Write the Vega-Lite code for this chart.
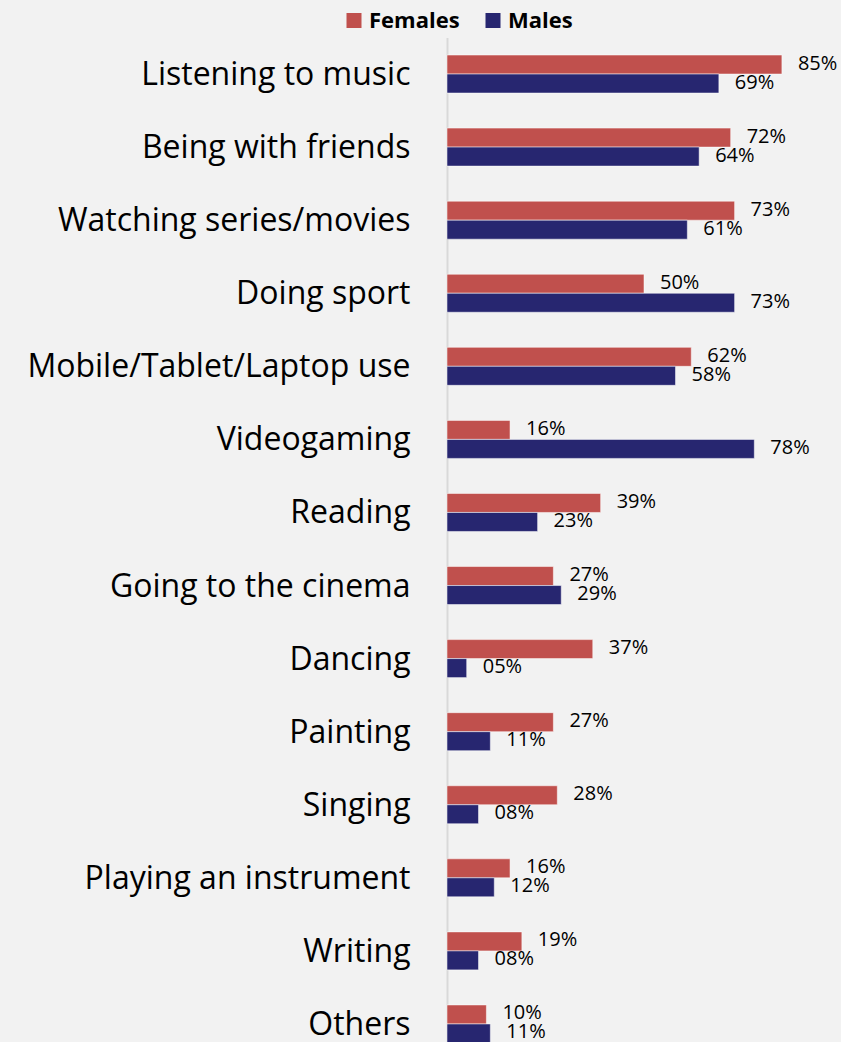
{
  "$schema": "https://vega.github.io/schema/vega-lite/v6.json",
  "autosize": {"type": "none"},
  "padding": {"left": 447, "top": 37.5, "right": 0, "bottom": 0},
  "width": 394,
  "height": 1023,
  "background": "#f2f2f2",
  "config": {
    "view": {"stroke": null},
    "font": "Open Sans"
  },
  "data": {
    "values": [
      {"activity": "Listening to music", "sex": "Females", "v": 0.85},
      {"activity": "Listening to music", "sex": "Males", "v": 0.69},
      {"activity": "Being with friends", "sex": "Females", "v": 0.72},
      {"activity": "Being with friends", "sex": "Males", "v": 0.64},
      {"activity": "Watching series/movies", "sex": "Females", "v": 0.73},
      {"activity": "Watching series/movies", "sex": "Males", "v": 0.61},
      {"activity": "Doing sport", "sex": "Females", "v": 0.50},
      {"activity": "Doing sport", "sex": "Males", "v": 0.73},
      {"activity": "Mobile/Tablet/Laptop use", "sex": "Females", "v": 0.62},
      {"activity": "Mobile/Tablet/Laptop use", "sex": "Males", "v": 0.58},
      {"activity": "Videogaming", "sex": "Females", "v": 0.16},
      {"activity": "Videogaming", "sex": "Males", "v": 0.78},
      {"activity": "Reading", "sex": "Females", "v": 0.39},
      {"activity": "Reading", "sex": "Males", "v": 0.23},
      {"activity": "Going to the cinema", "sex": "Females", "v": 0.27},
      {"activity": "Going to the cinema", "sex": "Males", "v": 0.29},
      {"activity": "Dancing", "sex": "Females", "v": 0.37},
      {"activity": "Dancing", "sex": "Males", "v": 0.05},
      {"activity": "Painting", "sex": "Females", "v": 0.27},
      {"activity": "Painting", "sex": "Males", "v": 0.11},
      {"activity": "Singing", "sex": "Females", "v": 0.28},
      {"activity": "Singing", "sex": "Males", "v": 0.08},
      {"activity": "Playing an instrument", "sex": "Females", "v": 0.16},
      {"activity": "Playing an instrument", "sex": "Males", "v": 0.12},
      {"activity": "Writing", "sex": "Females", "v": 0.19},
      {"activity": "Writing", "sex": "Males", "v": 0.08},
      {"activity": "Others", "sex": "Females", "v": 0.10},
      {"activity": "Others", "sex": "Males", "v": 0.11}
    ]
  },
  "encoding": {
    "y": {
      "field": "activity",
      "type": "nominal",
      "sort": null,
      "title": null,
      "scale": {"paddingInner": 0.48, "paddingOuter": 0.24},
      "axis": {
        "ticks": false,
        "labelFontSize": 32,
        "labelLimit": 0,
        "labelColor": "#000000",
        "labelPadding": 37,
        "labelFont": "Open Sans",
        "labelBaseline": "middle",
        "labelOffset": 1,
        "domainColor": "#d9d9d9",
        "domainWidth": 2
      }
    },
    "yOffset": {
      "field": "sex",
      "type": "nominal",
      "sort": ["Females", "Males"]
    },
    "x": {
      "field": "v",
      "type": "quantitative",
      "scale": {"domain": [0, 1]},
      "axis": null
    }
  },
  "layer": [
    {
      "mark": {"type": "bar", "strokeWidth": 1, "strokeOpacity": 0.5, "stroke": "#ffffff"},
      "encoding": {
        "color": {
          "field": "sex",
          "type": "nominal",
          "sort": ["Females", "Males"],
          "scale": {"domain": ["Females", "Males"], "range": ["#c0504d", "#272670"]},
          "legend": {
            "title": null,
            "orient": "none",
            "direction": "horizontal",
            "legendX": -104,
            "legendY": -28,
            "symbolType": "square",
            "symbolSize": 225,
            "symbolStrokeWidth": 0,
            "labelFontSize": 22,
            "labelFontWeight": "bold",
            "labelColor": "#000000",
            "labelFont": "Open Sans",
            "labelOffset": 4,
            "columnPadding": 22
          }
        }
      }
    },
    {
      "mark": {"type": "text", "align": "left", "baseline": "middle", "dx": 16, "dy": -1, "fontSize": 20, "color": "#000000"},
      "encoding": {
        "text": {"field": "v", "type": "quantitative", "format": "03.0%"}
      }
    }
  ]
}
